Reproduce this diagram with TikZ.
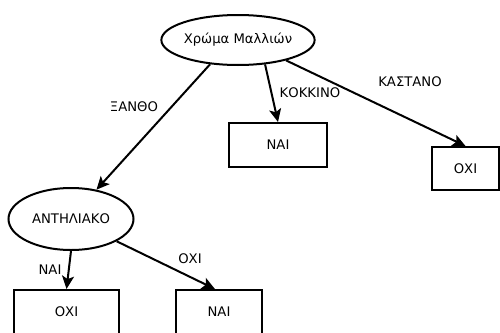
\documentclass[tikz,border=0pt]{standalone}
\usepackage{fontspec}
\setmainfont{DejaVu Sans}
\usetikzlibrary{shapes.geometric,arrows.meta}
\begin{document}
\begin{tikzpicture}[x=1pt,y=-1pt,
  every node/.style={font=\fontsize{13.2}{15}\selectfont, inner sep=0pt},
  ell/.style={draw, ellipse, line width=2pt},
  box/.style={draw, rectangle, line width=2pt},
  lab/.style={},
  conn/.style={line width=2pt, -{Stealth[length=13pt,width=12pt,inset=3pt]}}]
\useasboundingbox (0,0) rectangle (500,332);
\node[ell, minimum width=150pt, minimum height=50pt] (root) at (238,40) {Χρώμα Μαλλιών};
\node[ell, minimum width=125pt, minimum height=62pt] (anth) at (71,219) {ΑΝΤΗΛΙΑΚΟ};
\node[box, minimum width=98pt, minimum height=44pt] (nai1) at (278,145) {ΝΑΙ};
\node[box, minimum width=67pt, minimum height=43pt] (oxi1) at (465.5,168.5) {ΟΧΙ};
\node[box, minimum width=105pt, minimum height=44pt] (oxi2) at (66.5,312) {ΟΧΙ};
\node[box, minimum width=86pt, minimum height=44pt] (nai2) at (219,312) {ΝΑΙ};
\draw[conn] (root.221) -- (anth.49);
\draw[conn] (root.-42) -- (nai1.north);
\draw[conn] (root.-23) -- (oxi1.north);
\draw[conn] (anth.south) -- (oxi2.north);
\draw[conn] (anth.-26.6) -- (nai2.100);
\node[lab] (l1) at (134,107) {ΞΑΝΘΟ};
\node[lab] (l2) at (310,93) {ΚΟΚΚΙΝΟ};
\node[lab] (l3) at (410,82) {ΚΑΣΤΑΝΟ};
\node[lab] (l4) at (50,270) {ΝΑΙ};
\node[lab] (l5) at (190,259) {ΟΧΙ};
\end{tikzpicture}
\end{document}
